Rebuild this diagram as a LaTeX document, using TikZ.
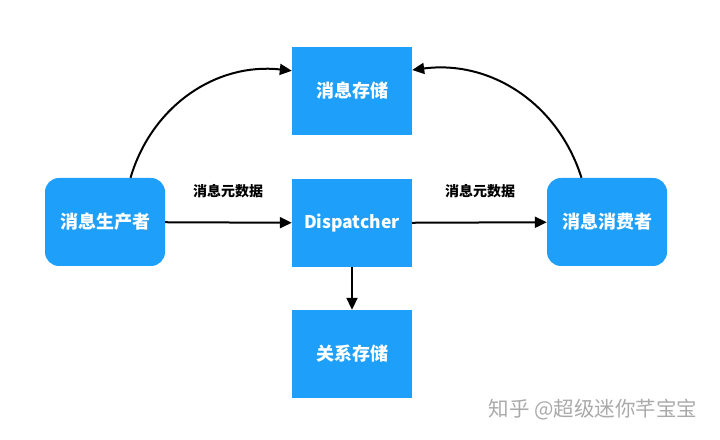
\documentclass[tikz,border=0pt]{standalone}
\usepackage{fontspec}
\setmainfont{Noto Sans CJK SC}
\usetikzlibrary{arrows.meta,positioning}
\definecolor{boxblue}{RGB}{30,160,250}
\definecolor{markgray}{RGB}{170,170,170}

\begin{document}
\begin{tikzpicture}[x=1pt,y=1pt,
  box/.style={fill=boxblue,text=white,minimum width=120pt,minimum height=88pt,inner sep=0pt,font=\bfseries\fontsize{18}{20}\selectfont},
  roundbox/.style={box,rounded corners=14pt},
  datalabel/.style={font=\bfseries\fontsize{14}{16}\selectfont},
  >={Triangle[length=12pt,width=11pt]}]
\useasboundingbox (0,0) rectangle (720,439);
\node[roundbox] (prod) at (105,217) {消息生产者};
\node[box] (store) at (352,348) {消息存储};
\node[box,font=\bfseries\fontsize{17.5}{19}\selectfont] (disp) at (352,216) {Dispatcher};
\node[box] (rel) at (352,85) {关系存储};
\node[roundbox] (cons) at (607,217) {消息消费者};
\node[datalabel] (meta1) at (228,248) {消息元数据};
\node[datalabel] (meta2) at (480,248) {消息元数据};
\node[text=markgray,font=\fontsize{20.5}{22}\selectfont] (mark) at (593,29) {知乎 @超级迷你芊宝宝};
\draw[->,line width=2pt] (prod) -- (disp);
\draw[->,line width=2pt] (disp) -- (cons);
\draw[->,line width=2pt] (disp) -- (rel);
\draw[->,line width=2pt] (prod.60) to[bend left=40] (store);
\draw[->,line width=2pt] (cons.120) to[bend right=40] (store);
\end{tikzpicture}
\end{document}
